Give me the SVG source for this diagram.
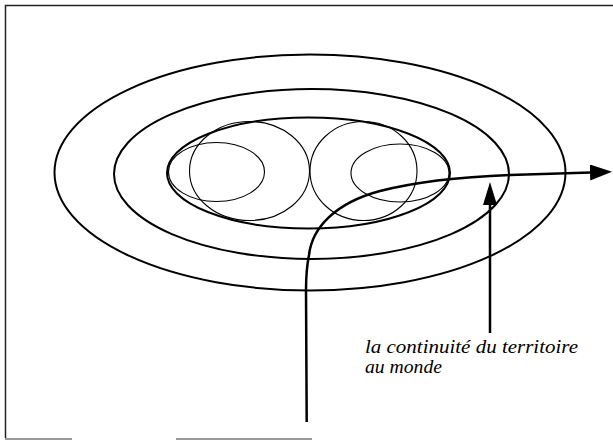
<svg xmlns="http://www.w3.org/2000/svg" width="613" height="440" viewBox="0 0 613 440">
<defs>
<style>
.frame{fill:none;stroke:#222;stroke-width:1.5}
.frame2{fill:none;stroke:#777;stroke-width:1.5}
.thick{fill:none;stroke:#000;stroke-width:2}
.thin{fill:none;stroke:#000;stroke-width:1.1}
.conn{fill:none;stroke:#000;stroke-width:2.5}
.lbl{font-family:"Liberation Serif","Times New Roman",serif;font-style:italic;font-size:18px;fill:#000}
</style>
<marker id="ah" markerWidth="24" markerHeight="18" refX="1" refY="8" orient="auto" markerUnits="userSpaceOnUse">
<path d="M0,0 L22,8 L0,16 Z" fill="#000"/>
</marker>
<marker id="ah2" markerWidth="24" markerHeight="16" refX="1" refY="7" orient="auto" markerUnits="userSpaceOnUse">
<path d="M0,0 L23,7 L0,14 Z" fill="#000"/>
</marker>
</defs>
<rect width="613" height="440" fill="#fff"/>
<g id="frame">
<path class="frame" d="M5.5,438 L5.5,5.5 L613,5.5"/>
<path class="frame2" d="M5,439 L72,439 M176,439 L312,439"/>
</g>
<g id="outer"><ellipse class="thick" cx="310" cy="172.5" rx="255.5" ry="118"/></g>
<g id="middle"><ellipse class="thick" cx="311.5" cy="174" rx="197.5" ry="85"/></g>
<g id="inner"><ellipse class="thick" cx="308.5" cy="173" rx="141.5" ry="55.5"/></g>
<g id="left-circle"><ellipse class="thin" cx="249.5" cy="171" rx="60" ry="49.5"/></g>
<g id="right-circle"><ellipse class="thin" cx="363.5" cy="171" rx="53.5" ry="49.5"/></g>
<g id="left-small"><ellipse class="thin" cx="216.5" cy="172" rx="48" ry="29.5"/></g>
<g id="right-small"><ellipse class="thin" cx="400" cy="173" rx="49" ry="29"/></g>
<g id="connectors">
<path class="conn" d="M306.7,422 L306,290 C306,270 308,260 309,255 C312,228 335,203 380,191 C415,182 460,177 510,175 L591,172.5" marker-end="url(#ah)"/>
<path class="conn" d="M490,333 L490,204" stroke-width="2" marker-end="url(#ah2)"/>
</g>
<g id="label">
<text class="lbl" x="365" y="353.3" textLength="213" lengthAdjust="spacingAndGlyphs">la continuité du territoire</text>
<text class="lbl" x="365" y="372.7" textLength="77" lengthAdjust="spacingAndGlyphs">au monde</text>
</g>
</svg>
